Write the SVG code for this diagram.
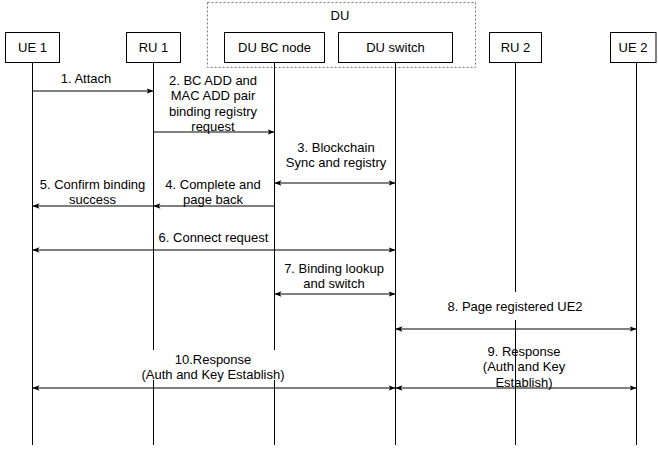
<svg xmlns="http://www.w3.org/2000/svg" width="658" height="449" viewBox="0 0 658 449">
<style>
text{font-family:"Liberation Sans",Arial,Helvetica,sans-serif;font-size:13px;fill:#000;text-anchor:middle}
.box{fill:#fff;stroke:#000;stroke-width:1}
.life{stroke:#000;stroke-width:1;fill:none}
.msg{stroke:#000;stroke-width:1;fill:none}
.bg{fill:#fff;stroke:none}
</style>
<defs>
<marker id="ah" viewBox="0 0 7 6" refX="7" refY="3" markerWidth="7" markerHeight="6" markerUnits="userSpaceOnUse" orient="auto-start-reverse">
<path d="M0,0.3 L7,3 L0,5.7 L1.8,3 z" fill="#000"/>
</marker>
</defs>
<rect width="658" height="449" fill="#fff"/>
<g id="du-group">
<rect x="207.5" y="2.5" width="268" height="65" fill="none" stroke="#777" stroke-dasharray="2 2"/>
<text x="340" y="20">DU</text>
</g>
<g id="lifelines">
<line class="life" x1="32.5" y1="62.5" x2="32.5" y2="445"/>
<line class="life" x1="153.5" y1="62.5" x2="153.5" y2="445"/>
<line class="life" x1="274.5" y1="62.5" x2="274.5" y2="445"/>
<line class="life" x1="395.5" y1="62.5" x2="395.5" y2="445"/>
<line class="life" x1="515.5" y1="62.5" x2="515.5" y2="445"/>
<line class="life" x1="636.5" y1="62.5" x2="636.5" y2="445"/>
</g>
<g id="ue1"><rect class="box" x="5.5" y="32.5" width="54" height="30"/><text x="32.5" y="52">UE 1</text></g>
<g id="ru1"><rect class="box" x="126.5" y="32.5" width="54" height="30"/><text x="153.5" y="52">RU 1</text></g>
<g id="du-bc-node"><rect class="box" x="224.5" y="32.5" width="100" height="30"/><text x="274.5" y="52">DU BC node</text></g>
<g id="du-switch"><rect class="box" x="338.5" y="32.5" width="114" height="30"/><text x="395.5" y="52">DU switch</text></g>
<g id="ru2"><rect class="box" x="489.5" y="32.5" width="52" height="30"/><text x="515.5" y="52">RU 2</text></g>
<g id="ue2"><rect class="box" x="610.5" y="32.5" width="45.5" height="30"/><text x="633" y="52">UE 2</text></g>
<g id="connectors">
<line class="msg" x1="32.5" y1="91" x2="153.5" y2="91" marker-end="url(#ah)"/>
<text x="86" y="82.5">1. Attach</text>
<line class="msg" x1="153.5" y1="132" x2="274.5" y2="132" marker-end="url(#ah)"/>
<text x="213"><tspan x="213" y="84.5">2. BC ADD and</tspan><tspan x="213" y="100">MAC ADD pair</tspan><tspan x="213" y="115.5">binding registry</tspan><tspan x="213" y="131">request</tspan></text>
<line class="msg" x1="274.5" y1="183" x2="395.5" y2="183" marker-start="url(#ah)" marker-end="url(#ah)"/>
<text x="336"><tspan x="336" y="151.5">3. Blockchain</tspan><tspan x="336" y="167">Sync and registry</tspan></text>
<line class="msg" x1="274.5" y1="206" x2="153.5" y2="206" marker-end="url(#ah)"/>
<text x="213"><tspan x="213" y="188.5">4. Complete and</tspan><tspan x="213" y="204">page back</tspan></text>
<line class="msg" x1="153.5" y1="206" x2="32.5" y2="206" marker-end="url(#ah)"/>
<text x="92.5"><tspan x="92.5" y="188.5">5. Confirm binding</tspan><tspan x="92.5" y="204">success</tspan></text>
<line class="msg" x1="32.5" y1="250" x2="395.5" y2="250" marker-start="url(#ah)" marker-end="url(#ah)"/>
<text x="213.5" y="241.5">6. Connect request</text>
<line class="msg" x1="274.5" y1="294" x2="395.5" y2="294" marker-start="url(#ah)" marker-end="url(#ah)"/>
<text x="334"><tspan x="334" y="272.5">7. Binding lookup</tspan><tspan x="334" y="288">and switch</tspan></text>
<line class="msg" x1="395.5" y1="329" x2="636.5" y2="329" marker-start="url(#ah)" marker-end="url(#ah)"/>
<rect class="bg" x="443" y="292" width="144" height="28"/>
<text x="515" y="310.5">8. Page registered UE2</text>
<line class="msg" x1="395.5" y1="388" x2="636.5" y2="388" marker-start="url(#ah)" marker-end="url(#ah)"/>
<text x="524"><tspan x="524" y="355.5">9. Response</tspan><tspan x="524" y="371">(Auth and Key</tspan><tspan x="524" y="386.5">Establish)</tspan></text>
<line class="msg" x1="32.5" y1="388" x2="395.5" y2="388" marker-start="url(#ah)" marker-end="url(#ah)"/>
<rect class="bg" x="138" y="350" width="150" height="30"/>
<text x="213"><tspan x="213" y="363.5">10.Response</tspan><tspan x="213" y="379">(Auth and Key Establish)</tspan></text>
</g>
</svg>
